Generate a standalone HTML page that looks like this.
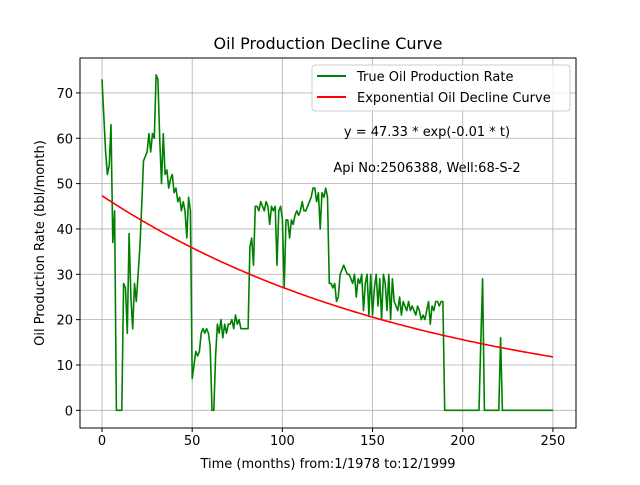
<!DOCTYPE html>
<html><head><meta charset="utf-8"><style>
body{margin:0;background:#fff}
svg text{font-family:"DejaVu Sans","Liberation Sans",sans-serif;fill:#000}
</style></head><body>
<svg id="chart" width="640" height="480" xmlns="http://www.w3.org/2000/svg">
<rect width="640" height="480" fill="#fff"/>
<g id="grid"></g>
<g id="ticks"></g>
<g id="series"></g>
<rect x="80" y="58" width="496" height="370" fill="none" stroke="#000" stroke-width="1"/>
<text x="328" y="49" font-size="16" text-anchor="middle">Oil Production Decline Curve</text>
<text x="328" y="468" font-size="13" text-anchor="middle">Time (months) from:1/1978 to:12/1999</text>
<text x="44" y="243" font-size="13" text-anchor="middle" transform="rotate(-90 44 243)">Oil Production Rate (bbl/month)</text>
<g>
<rect x="312" y="65" width="258" height="46" rx="3" fill="#fff" fill-opacity="0.8" stroke="#ccc"/>
<line x1="317" y1="76" x2="346" y2="76" stroke="#008000" stroke-width="2"/>
<text x="357" y="81" font-size="13">True Oil Production Rate</text>
<line x1="317" y1="97" x2="346" y2="97" stroke="#ff0000" stroke-width="2"/>
<text x="357" y="102" font-size="13">Exponential Oil Decline Curve</text>
</g>
<text x="427" y="136" font-size="13" text-anchor="middle">y = 47.33 * exp(-0.01 * t)</text>
<text x="427" y="172" font-size="13" text-anchor="middle">Api No:2506388, Well:68-S-2</text>
</svg>
<script>
const production = [
73,65,57,52,54,63,37,44,0,0,
0,0,28,27,17,39,25,18,28,24,
30,36,45,55,56,57,61,57,61,60,
74,73,60,50,61,52,53,49,51,52,
48,49,46,47,44,46,44,38,47,44,
7,10,13,12,13,17,18,17,18,17,
14,0,0,12,19,17,20,16,19,17,
19,19,20,18,21,19,20,18,18,18,
18,18,36,38,32,45,45,44,46,45,
44,46,45,41,45,44,45,32,44,45,
42,27,42,42,38,42,41,43,44,43,
44,46,44,44,45,46,47,49,49,46,
48,40,48,47,49,47,28,28,27,28,
24,25,30,31,32,31,30,30,29,28,
30,25,29,28,30,22,28,30,21,30,
21,27,30,23,29,20,30,28,22,30,
20,29,24,23,22,25,21,24,23,22,
24,22,23,22,21,23,22,20,21,20,
22,24,19,23,22,24,24,23,24,24,
0,0,0,0,0,0,0,0,0,0,
0,0,0,0,0,0,0,0,0,0,
15,29,0,0,0,0,0,0,0,0,
0,16,0,0,0,0,0,0,0,0,
0,0,0,0,0,0,0,0,0,0,
0,0,0,0,0,0,0,0,0,0,
0];
const fitA = 47.33;
const fitB = 0.00556;
const xTicks = [0,50,100,150,200,250];
const yTicks = [0,10,20,30,40,50,60,70];

const X0=80,X1=576,Y0=428,Y1=58, xmin=-12.2,xmax=262.8,ymin=-3.9,ymax=77.7;
const sx=v=>X0+(v-xmin)/(xmax-xmin)*(X1-X0);
const sy=v=>Y0-(v-ymin)/(ymax-ymin)*(Y0-Y1);
const NS="http://www.w3.org/2000/svg";
function mk(tag,attrs,parent){const e=document.createElementNS(NS,tag);for(const k in attrs)e.setAttribute(k,attrs[k]);parent.appendChild(e);return e;}
const grid=document.getElementById('grid'),ticks=document.getElementById('ticks'),series=document.getElementById('series');
xTicks.forEach(t=>{
  const g=mk('line',{x1:sx(t),x2:sx(t),y1:Y1,y2:Y0,stroke:'#b0b0b0','stroke-width':0.8},grid);
  
  
  mk('line',{x1:sx(t),x2:sx(t),y1:Y0,y2:Y0+4,stroke:'#000'},ticks);
  const l=mk('text',{x:sx(t),y:Y0+17,'font-size':13,'text-anchor':'middle'},ticks);
  l.textContent=t;
  
  
});
yTicks.forEach(t=>{
  const g=mk('line',{x1:X0,x2:X1,y1:sy(t),y2:sy(t),stroke:'#b0b0b0','stroke-width':0.8},grid);
  
  
  mk('line',{x1:X0-4,x2:X0,y1:sy(t),y2:sy(t),stroke:'#000'},ticks);
  const l=mk('text',{x:X0-7,y:sy(t)+5,'font-size':13,'text-anchor':'end'},ticks);
  l.textContent=t;
  
  
});
const p1=mk('path',{d:production.map((v,i)=>(i?'L':'M')+sx(i).toFixed(1)+','+sy(v).toFixed(1)).join(''),fill:'none',stroke:'#008000','stroke-width':1.6,'stroke-linejoin':'round'},series);


const p2=mk('path',{d:production.map((v,i)=>(i?'L':'M')+sx(i).toFixed(1)+','+sy(fitA*Math.exp(-fitB*i)).toFixed(1)).join(''),fill:'none',stroke:'#ff0000','stroke-width':1.6},series);


</script>
</body></html>
